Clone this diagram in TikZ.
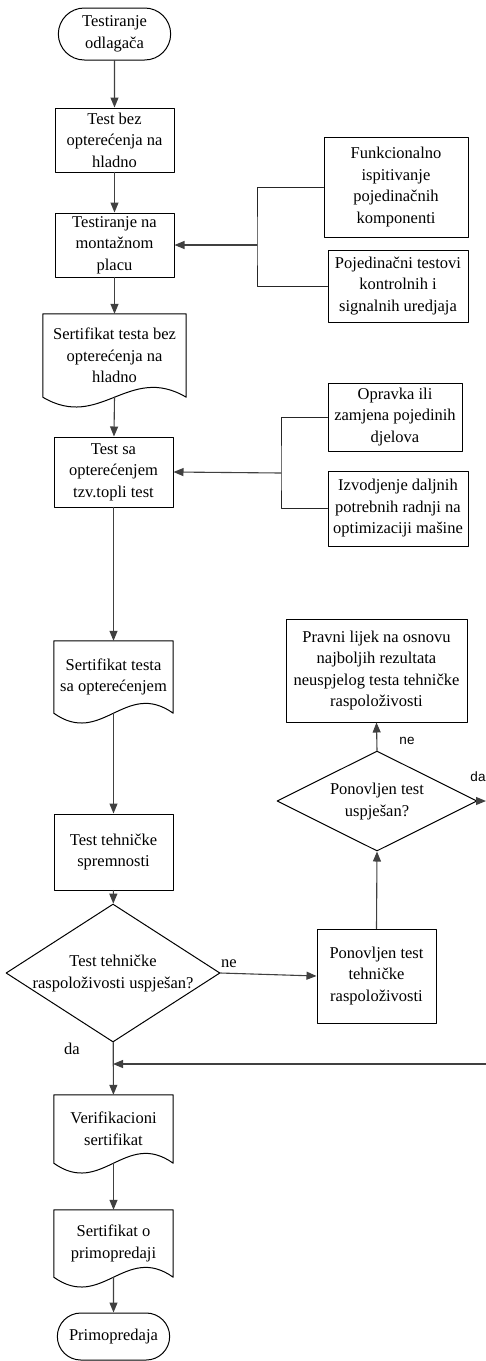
\documentclass[tikz,border=0pt]{standalone}
\usepackage{fontspec}
\setmainfont{Liberation Serif}
\newfontfamily\labelsans{Liberation Sans}
\usetikzlibrary{arrows.meta,positioning,calc,shapes.geometric,shapes.misc}

\begin{document}
\begin{tikzpicture}[
  x=1pt,
  y=-1pt,
  line cap=round,
  line join=round,
  flow/.style={draw=black!75, line width=1.1pt,
    -{Triangle[length=10pt,width=8pt]}},
  link/.style={draw=black!85, line width=1pt},
  process/.style={rectangle, draw, line width=1pt, align=center,
    inner sep=2pt, font=\fontsize{16.5}{21.5}\selectfont},
  terminal/.style={rounded rectangle, draw, line width=1pt,
    align=center, minimum width=119pt,
    font=\fontsize{16.5}{21.5}\selectfont},
  docbox/.style={rectangle, align=center, inner sep=2pt,
    font=\fontsize{16.5}{21.5}\selectfont},
  decision/.style={diamond, draw, line width=1pt, inner sep=0pt,
    font=\fontsize{16.5}{21.5}\selectfont},
  tag/.style={inner sep=1pt, font=\fontsize{16.5}{21.5}\selectfont},
  sanstag/.style={inner sep=1pt, font=\labelsans\fontsize{13.5}{16}\selectfont}
]

\useasboundingbox (0,0) rectangle (486,1361);

% Main column
\node[terminal, minimum height=52pt] (start) at (114.5,34)
  {Testiranje\\odlagača};
\node[process, minimum width=119pt, minimum height=64pt] (tcold)
  at (114.5,140) {Test bez\\opterećenja na\\hladno};
\node[process, minimum width=119pt, minimum height=64pt] (tsite)
  at (114.5,245) {Testiranje na\\montažnom\\placu};
\node[docbox, minimum width=143pt, minimum height=83pt] (certcold)
  at (114.5,355.5) {Sertifikat testa bez\\opterećenja na\\hladno};
\node[process, minimum width=119pt, minimum height=70pt] (thot)
  at (113.5,472) {Test sa\\opterećenjem\\tzv.topli test};
\node[docbox, minimum width=119pt, minimum height=72pt] (certhot)
  at (113.5,677) {Sertifikat testa\\sa opterećenjem};
\node[process, minimum width=119pt, minimum height=76pt] (tready)
  at (113.5,852) {Test tehničke\\spremnosti};
\node[decision, minimum width=214pt, minimum height=138pt] (avail)
  at (113,973) {\makebox[0pt]{\begin{tabular}{@{}c@{}}Test tehničke\\
    raspoloživosti uspješan?\end{tabular}}};
\node[docbox, minimum width=119pt, minimum height=68pt] (certver)
  at (113.5,1129) {Verifikacioni\\sertifikat};
\node[docbox, minimum width=119pt, minimum height=67pt] (certhand)
  at (113.5,1243.5) {Sertifikat o\\primopredaji};
\node[terminal, minimum height=47pt] (handover) at (113.5,1336.5)
  {Primopredaja};

% Side boxes
\node[process, minimum width=144pt, minimum height=100pt] (fcomp)
  at (396,187) {Funkcionalno\\ispitivanje\\pojedinačnih\\komponenti};
\node[process, minimum width=140pt, minimum height=72pt] (sigtest)
  at (398,286) {Pojedinačni testovi\\kontrolnih i\\signalnih uredjaja};
\node[process, minimum width=134pt, minimum height=68pt] (repair)
  at (395,417) {Opravka ili\\zamjena pojedinih\\djelova};
\node[process, minimum width=140pt, minimum height=75pt] (optim)
  at (398,508.5) {Izvodjenje daljnih\\potrebnih radnji na\\optimizaciji mašine};

% Retest branch
\node[process, minimum width=119pt, minimum height=94pt] (retest)
  at (376.5,976) {Ponovljen test\\tehničke\\raspoloživosti};
\node[decision, minimum width=200pt, minimum height=100pt] (retestok)
  at (377,801) {\makebox[0pt]{\begin{tabular}{@{}c@{}}Ponovljen test\\
    uspješan?\end{tabular}}};
\node[process, minimum width=181pt, minimum height=103pt] (remedy)
  at (376.5,670.5) {Pravni lijek na osnovu\\najboljih rezultata\\
    neuspjelog testa tehničke\\raspoloživosti};

% Document outlines with wavy bottom
\foreach \docname in {certcold,certhot,certver,certhand}{
  \draw[line width=1pt]
    (\docname.south west) -- (\docname.north west)
    -- (\docname.north east) -- (\docname.south east)
    .. controls ($(\docname.south east)!0.4!(\docname.south west)+(0,-34)$)
       and ($(\docname.south west)!0.4!(\docname.south east)+(0,34)$) ..
       (\docname.south west);
}

% Main flow
\draw[flow] (start) -- (tcold);
\draw[flow] (tcold) -- (tsite);
\draw[flow] (tsite) -- (certcold);
\draw[flow] (certcold.south) -- (thot);
\draw[flow] (thot) -- (certhot);
\draw[flow] (certhot.south) -- (tready);
\draw[flow] (tready) -- (avail);
\draw[flow] (avail) -- (certver);
\draw[flow] (certver.south) -- (certhand);
\draw[flow] (certhand.south) -- (handover);

% Brackets from the side boxes
\coordinate (jsite) at (257,245);
\draw[link] (fcomp.west) -| (jsite) |- (sigtest.west);
\draw[flow] (jsite) -- (tsite.east);

\coordinate (jhot) at (281,473);
\draw[link] (repair.west) -| (jhot) |- (optim.west);
\draw[flow] (jhot) -- (thot.east);

% Retest loop
\draw[flow] (avail.east) -- (retest.west);
\draw[flow] (retest.north) -- (retestok.south);
\draw[flow] (retestok.north) -- (remedy.south);

\coordinate (offright) at (486,801);
\draw[flow] (retestok.east) -- (offright);
\coordinate (backin) at (486,1064);
\draw[flow] (backin) -- (avail.south |- backin);

% Branch labels
\node[tag] (availno) at (229,964) {ne};
\node[tag] (availyes) at (72,1049) {da};
\node[sanstag] (retestno) at (407,741) {ne};
\node[sanstag] (retestyes) at (478,777) {da};

\end{tikzpicture}
\end{document}
